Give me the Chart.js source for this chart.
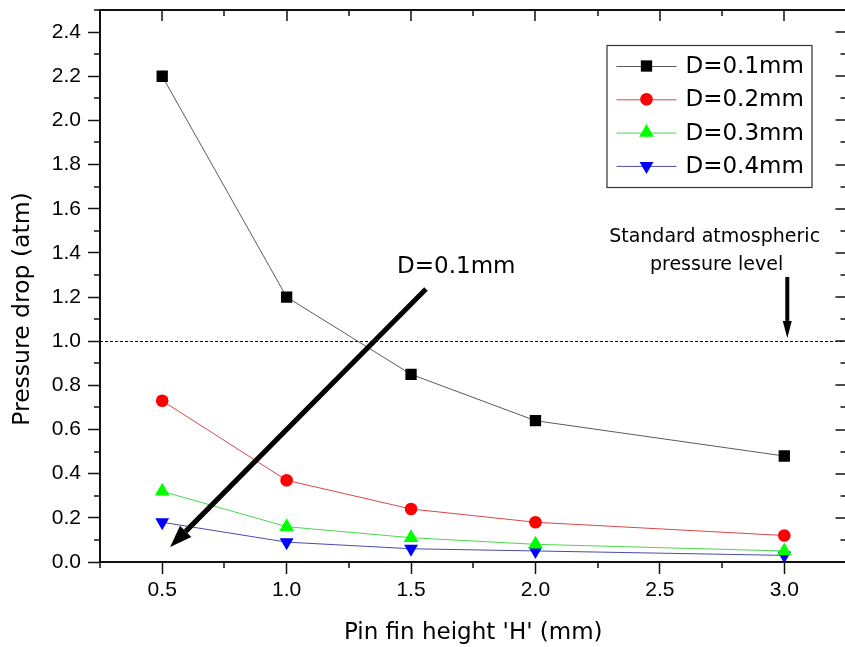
<!DOCTYPE html>
<html>
<head>
<meta charset="utf-8">
<script src="https://cdn.jsdelivr.net/npm/chart.js@4.4.0/dist/chart.umd.min.js"></script>
<style>
  html, body { margin: 0; padding: 0; background: #fff; overflow: hidden; width: 845px; height: 647px; }
  canvas { display: block; }
</style>
</head>
<body>
<canvas id="chart" width="855" height="647"></canvas>
<script>
// Pin fin height H (mm)
const heights = [0.5, 1.0, 1.5, 2.0, 3.0];

// Pressure drop (atm) for each pin fin diameter
const seriesNames = ['D=0.1mm', 'D=0.2mm', 'D=0.3mm', 'D=0.4mm'];
const dropD01 = [2.2, 1.2, 0.85, 0.64, 0.48];
const dropD02 = [0.73, 0.37, 0.24, 0.18, 0.12];
const dropD03 = [0.32, 0.16, 0.11, 0.08, 0.05];
const dropD04 = [0.18, 0.09, 0.06, 0.05, 0.03];

// Axis ticks
const xMajorTicks = [0.5, 1.0, 1.5, 2.0, 2.5, 3.0];
const xMinorTicks = [0.25, 0.75, 1.25, 1.75, 2.25, 2.75, 3.25];
const yMajorTicks = [0.0, 0.2, 0.4, 0.6, 0.8, 1.0, 1.2, 1.4, 1.6, 1.8, 2.0, 2.2, 2.4];
const yMinorTicks = [0.1, 0.3, 0.5, 0.7, 0.9, 1.1, 1.3, 1.5, 1.7, 1.9, 2.1, 2.3, 2.5];

// Reference level: standard atmospheric pressure
const atmLevel = 1.0;

const FONT = "'DejaVu Sans', 'Liberation Sans', Arial, sans-serif";
const TICK_FONT = "'Liberation Sans', Arial, sans-serif";
const AXIS_COLOR = '#111';

const seriesStyles = [
  { marker: '#000000', line: '#5a5a5a', pointStyle: 'rect',     radius: 8,   rotation: 0 },
  { marker: '#ff0000', line: '#d84848', pointStyle: 'circle',   radius: 6.3, rotation: 0 },
  { marker: '#00ff00', line: '#4cd84c', pointStyle: 'triangle', radius: 8.5, rotation: 0 },
  { marker: '#0000ff', line: '#4a4aa8', pointStyle: 'triangle', radius: 8,   rotation: 180 }
];
const seriesValues = [dropD01, dropD02, dropD03, dropD04];

const datasets = seriesValues.map((vals, i) => {
  const s = seriesStyles[i];
  return {
    label: seriesNames[i],
    data: heights.map((h, k) => ({ x: h, y: vals[k] })),
    showLine: true,
    borderColor: s.line,
    borderWidth: 1,
    backgroundColor: s.marker,
    pointBackgroundColor: s.marker,
    pointBorderColor: s.marker,
    pointBorderWidth: 0,
    pointStyle: s.pointStyle,
    pointRadius: s.radius,
    pointRotation: s.rotation,
    tension: 0
  };
});

function arrow(ctx, x1, y1, x2, y2, width, headLen, headHalf) {
  const ang = Math.atan2(y2 - y1, x2 - x1);
  const bx = x2 - Math.cos(ang) * headLen;
  const by = y2 - Math.sin(ang) * headLen;
  ctx.save();
  ctx.strokeStyle = '#000';
  ctx.fillStyle = '#000';
  ctx.lineWidth = width;
  ctx.lineCap = 'butt';
  ctx.beginPath();
  ctx.moveTo(x1, y1);
  ctx.lineTo(bx, by);
  ctx.stroke();
  ctx.beginPath();
  ctx.moveTo(x2, y2);
  ctx.lineTo(bx + Math.sin(ang) * headHalf, by - Math.cos(ang) * headHalf);
  ctx.lineTo(bx - Math.sin(ang) * headHalf, by + Math.cos(ang) * headHalf);
  ctx.closePath();
  ctx.fill();
  ctx.restore();
}

const framePlugin = {
  id: 'frameAndNotes',
  beforeDatasetsDraw(chart) {
    const { ctx, chartArea: a, scales: { y } } = chart;
    // dashed reference line at 1 atm
    const yAtm = Math.round(y.getPixelForValue(atmLevel));
    ctx.save();
    ctx.strokeStyle = '#000';
    ctx.lineWidth = 1;
    ctx.setLineDash([3, 2]);
    ctx.beginPath();
    ctx.moveTo(a.left, yAtm + 0.5);
    ctx.lineTo(a.right, yAtm + 0.5);
    ctx.stroke();
    ctx.restore();
  },
  afterDraw(chart) {
    const { ctx, chartArea: a, scales: { x, y } } = chart;
    ctx.save();
    ctx.strokeStyle = AXIS_COLOR;
    // top and right frame lines
    ctx.lineWidth = 2;
    ctx.beginPath();
    ctx.moveTo(a.left, a.top);
    ctx.lineTo(a.right, a.top);
    ctx.lineTo(a.right, a.bottom);
    ctx.stroke();
    ctx.lineWidth = 1.5;
    // minor ticks: outward on left/bottom, inward on top/right
    yMinorTicks.forEach(v => {
      const py = Math.round(y.getPixelForValue(v));
      ctx.beginPath(); ctx.moveTo(a.left - 6, py); ctx.lineTo(a.left, py); ctx.stroke();
      ctx.beginPath(); ctx.moveTo(a.right - 6, py); ctx.lineTo(a.right, py); ctx.stroke();
    });
    xMinorTicks.forEach(v => {
      const px = Math.round(x.getPixelForValue(v));
      ctx.beginPath(); ctx.moveTo(px, a.bottom); ctx.lineTo(px, a.bottom + 6); ctx.stroke();
      ctx.beginPath(); ctx.moveTo(px, a.top); ctx.lineTo(px, a.top + 6); ctx.stroke();
    });
    // major ticks on top/right (inward)
    yMajorTicks.forEach(v => {
      const py = Math.round(y.getPixelForValue(v));
      ctx.beginPath(); ctx.moveTo(a.right - 11, py); ctx.lineTo(a.right, py); ctx.stroke();
    });
    xMajorTicks.forEach(v => {
      const px = Math.round(x.getPixelForValue(v));
      ctx.beginPath(); ctx.moveTo(px, a.top); ctx.lineTo(px, a.top + 11); ctx.stroke();
    });
    ctx.restore();

    // y axis title
    ctx.save();
    ctx.fillStyle = '#000';
    ctx.font = '23.5px ' + FONT;
    ctx.textAlign = 'center';
    ctx.textBaseline = 'middle';
    ctx.translate(23, (a.top + a.bottom) / 2 + 23);
    ctx.rotate(-Math.PI / 2);
    ctx.fillText('Pressure drop (atm)', 0, 0);
    ctx.restore();

    // annotations
    ctx.save();
    ctx.fillStyle = '#000';
    ctx.font = '19px ' + FONT;
    ctx.textAlign = 'center';
    ctx.textBaseline = 'middle';
    const tx = x.getPixelForValue(2.72);
    ctx.fillText('Standard atmospheric', tx, y.getPixelForValue(1.472));
    ctx.fillText('pressure level', tx + 2, y.getPixelForValue(1.345));
    ctx.font = '23px ' + FONT;
    ctx.textAlign = 'left';
    ctx.fillText('D=0.1mm', x.getPixelForValue(1.444), y.getPixelForValue(1.336));
    ctx.restore();

    arrow(ctx, x.getPixelForValue(3.012), y.getPixelForValue(1.291),
               x.getPixelForValue(3.012), y.getPixelForValue(1.015), 4, 17, 4.5);
    arrow(ctx, x.getPixelForValue(1.56), y.getPixelForValue(1.236),
               x.getPixelForValue(0.532), y.getPixelForValue(0.068), 5, 22, 8);

    // legend box
    const lx = a.right - 240, ly = a.top + 35, lw = 205, lh = 142;
    ctx.save();
    ctx.fillStyle = '#fff';
    ctx.fillRect(lx, ly, lw, lh);
    ctx.strokeStyle = '#333';
    ctx.lineWidth = 1.2;
    ctx.strokeRect(lx + 0.5, ly + 0.5, lw, lh);
    chart.data.datasets.forEach((ds, i) => {
      const ry = ly + 21 + i * 33.3;
      const s = seriesStyles[i];
      ctx.strokeStyle = s.line;
      ctx.lineWidth = 1;
      ctx.beginPath();
      ctx.moveTo(lx + 10, ry + 0.5); ctx.lineTo(lx + 70, ry + 0.5);
      ctx.stroke();
      ctx.fillStyle = s.marker;
      Chart.helpers.drawPoint(ctx, {
        pointStyle: s.pointStyle, rotation: s.rotation, radius: s.radius, borderWidth: 0
      }, lx + 40, ry);
      ctx.fillStyle = '#000';
      ctx.font = '23px ' + FONT;
      ctx.textAlign = 'left';
      ctx.textBaseline = 'middle';
      ctx.fillText(ds.label, lx + 79, ry + 1);
    });
    ctx.restore();
  }
};

new Chart(document.getElementById('chart'), {
  type: 'scatter',
  data: { datasets },
  options: {
    responsive: false,
    animation: false,
    layout: { padding: { top: 10, right: 7, left: 0, bottom: 0 } },
    plugins: { legend: { display: false }, tooltip: { enabled: false } },
    scales: {
      x: {
        type: 'linear',
        min: 0.25,
        max: 3.25,
        afterBuildTicks: s => { s.ticks = xMajorTicks.map(v => ({ value: v })); },
        afterFit: s => { s.height = 85; s.paddingLeft = 0; s.paddingRight = 0; },
        grid: { drawOnChartArea: false, drawTicks: true, tickLength: 12, tickColor: AXIS_COLOR, tickWidth: 1.5 },
        border: { display: true, color: AXIS_COLOR, width: 2 },
        ticks: {
          color: '#000', padding: 4,
          font: { family: TICK_FONT, size: 21 },
          callback: v => v.toFixed(1),
          maxRotation: 0, autoSkip: false
        },
        title: {
          display: true, text: "Pin fin height 'H' (mm)", color: '#000',
          font: { family: FONT, size: 23 }, padding: { top: 0, bottom: 0 }
        }
      },
      y: {
        type: 'linear',
        min: 0,
        max: 2.5,
        afterBuildTicks: s => { s.ticks = yMajorTicks.map(v => ({ value: v })); },
        afterFit: s => { s.width = 100; s.paddingTop = 0; s.paddingBottom = 0; },
        grid: { drawOnChartArea: false, drawTicks: true, tickLength: 12, tickColor: AXIS_COLOR, tickWidth: 1.5 },
        border: { display: true, color: AXIS_COLOR, width: 2 },
        ticks: {
          color: '#000', padding: 7,
          font: { family: TICK_FONT, size: 21 },
          callback: v => v.toFixed(1),
          autoSkip: false
        },
        title: { display: false }
      }
    }
  },
  plugins: [framePlugin]
});
</script>
</body>
</html>
